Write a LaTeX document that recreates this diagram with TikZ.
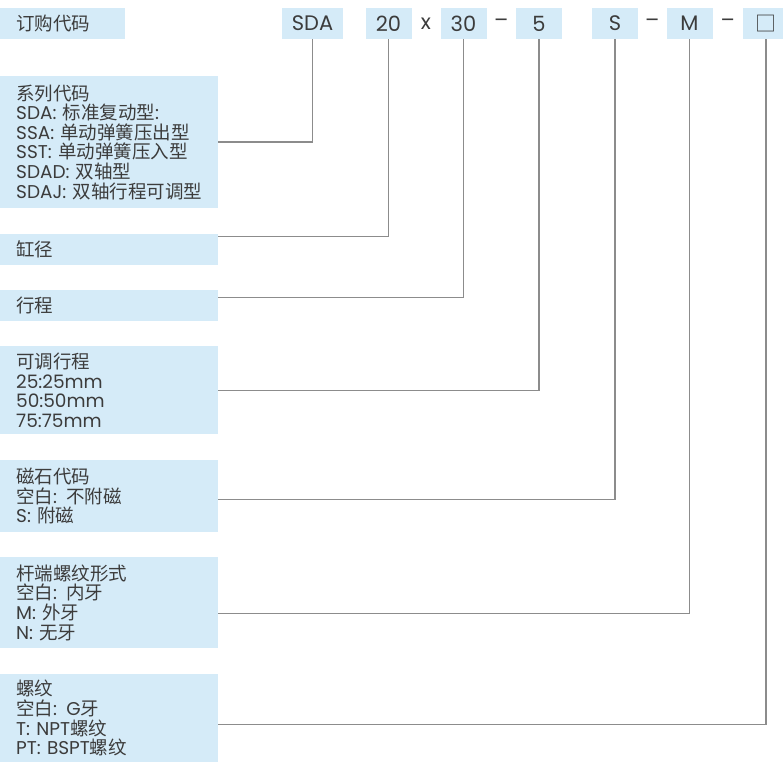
\documentclass[tikz,border=0pt]{standalone}
\usepackage{fontspec}
\setmainfont{Poppins}
\newfontfamily\cjk{Noto Sans CJK SC}
\newcommand\zh[1]{{\cjk #1}}
\usetikzlibrary{calc}
\definecolor{codefill}{HTML}{D5EBF8}
\definecolor{codetext}{HTML}{3C3C3C}
\definecolor{codeline}{HTML}{8C8C8C}

\begin{document}
\begin{tikzpicture}[x=1pt,y=-1pt,
  code box/.style={fill=codefill,text=codetext,font=\fontsize{21}{22}\selectfont,
    inner sep=0pt,minimum height=31pt,minimum width=46pt},
  desc box/.style={fill=codefill,text=codetext,font=\fontsize{18.5}{19.6}\selectfont,
    anchor=north west,text width=186pt,inner xsep=16pt,inner ysep=0pt,align=left},
  sep/.style={text=codetext,font=\fontsize{21}{22}\selectfont,inner sep=0pt},
  link/.style={draw=codeline,line width=1.4pt}]
\useasboundingbox (0,0) rectangle (783,762);

% code row
\node[desc box,text width=93pt,minimum height=31pt] (order) at (0,8) {\zh{订购代码}};
\node[code box,minimum width=61pt] (sda) at (312.5,23.5) {SDA};
\node[code box] (dia) at (388.5,23.5) {20};
\node[code box] (stroke) at (463.5,23.5) {30};
\node[code box] (adj) at (539,23.5) {5};
\node[code box] (mag) at (615,23.5) {S};
\node[code box] (rod) at (689.5,23.5) {M};
\node[code box] (thr) at (766,23.5) {\zh{□}};
\node[sep] (s1) at ($(dia.east)!0.5!(stroke.west)$) {x};
\node[sep] (s2) at ($(stroke.east)!0.5!(adj.west)$) {–};
\node[sep] (s3) at ($(mag.east)!0.5!(rod.west)$) {–};
\node[sep] (s4) at ($(rod.east)!0.5!(thr.west)$) {–};

% explanations
\node[desc box,minimum height=132pt] (series) at (0,76)
  {\zh{系列代码}\\SDA: \zh{标准复动型}:\\SSA: \zh{单动弹簧压出型}\\SST: \zh{单动弹簧压入型}\\SDAD: \zh{双轴型}\\SDAJ: \zh{双轴行程可调型}};
\node[desc box,minimum height=31pt] (bore) at (0,234) {\zh{缸径}};
\node[desc box,minimum height=31pt] (len) at (0,290) {\zh{行程}};
\node[desc box,minimum height=88pt] (adjlen) at (0,346)
  {\zh{可调行程}\\25:25mm\\50:50mm\\75:75mm};
\node[desc box,minimum height=72pt] (magnet) at (0,460)
  {\zh{磁石代码}\\\zh{空白}: \zh{不附磁}\\S: \zh{附磁}};
\node[desc box,minimum height=91pt] (rodend) at (0,557)
  {\zh{杆端螺纹形式}\\\zh{空白}: \zh{内牙}\\M: \zh{外牙}\\N: \zh{无牙}};
\node[desc box,minimum height=88pt] (thread) at (0,674)
  {\zh{螺纹}\\\zh{空白}: G\zh{牙}\\T: NPT\zh{螺纹}\\PT: BSPT\zh{螺纹}};

% connectors
\draw[link] (sda.south) |- (series.east);
\draw[link] (dia.south) |- ([yshift=13.5pt]bore.east);
\draw[link] (stroke.south) |- ([yshift=8.5pt]len.east);
\draw[link] (adj.south) |- (adjlen.east);
\draw[link] (mag.south) |- ([yshift=-3pt]magnet.east);
\draw[link] (rod.south) |- ([yshift=-10.5pt]rodend.east);
\draw[link] (thr.south) |- ([yshift=-6pt]thread.east);
\end{tikzpicture}
\end{document}
